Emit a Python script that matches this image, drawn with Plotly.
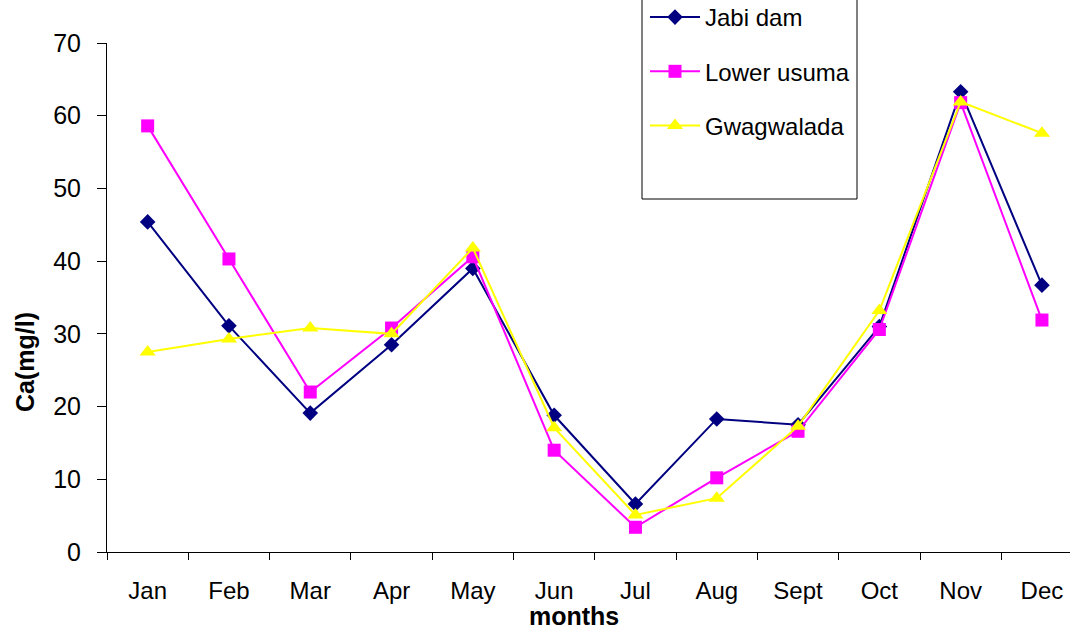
import plotly.graph_objects as go

months = ["Jan", "Feb", "Mar", "Apr", "May", "Jun", "Jul", "Aug", "Sept", "Oct", "Nov", "Dec"]
jabi_dam = [45.4, 31.1, 19.1, 28.5, 39.0, 18.8, 6.6, 18.3, 17.5, 31.0, 63.3, 36.7]
lower_usuma = [58.6, 40.3, 22.0, 30.8, 40.6, 14.0, 3.4, 10.2, 16.6, 30.6, 61.8, 31.9]
gwagwalada = [27.5, 29.3, 30.8, 30.0, 41.8, 17.1, 5.1, 7.4, 17.3, 33.2, 61.9, 57.6]

FONT = "Liberation Sans, Arial, sans-serif"

fig = go.Figure()
series = [
    ("Jabi dam", jabi_dam, "#000080", "diamond", 12),
    ("Lower usuma", lower_usuma, "#FF00FF", "square", 13),
    ("Gwagwalada", gwagwalada, "#FFFF00", "triangle-up", 14),
]
for name, vals, col, sym, sz in series:
    fig.add_trace(go.Scatter(
        x=months, y=vals, name=name, mode="lines+markers",
        line=dict(color=col, width=2),
        marker=dict(symbol=sym, size=sz, color=col),
        legendgroup=name,
    ))

W, H = 1070, 630
L, R, T, B = 107, 0, 43, 78
pw = W - L - R
ph = H - T - B

def px_x(p):
    return (p - L) / pw

def px_y(p):
    return (H - B - p) / ph

fig.update_layout(
    width=W, height=H,
    margin=dict(l=L, r=R, t=T, b=B, autoexpand=False),
    plot_bgcolor="white", paper_bgcolor="white",
    font=dict(family=FONT, color="black", size=24),
    showlegend=True,
    legend=dict(
        x=px_x(645), y=px_y(-5), xanchor="left", yanchor="top",
        bgcolor="rgba(0,0,0,0)", borderwidth=0,
        font=dict(size=24, family=FONT, color="black"),
        tracegroupgap=20, itemwidth=50,
    ),
    xaxis=dict(
        type="category", range=[-0.5, -0.5 + pw / 81.3],
        showline=True, linecolor="black", linewidth=1,
        ticks="outside", ticklen=7, tickcolor="black", tickson="boundaries",
        showgrid=False, zeroline=False,
        tickfont=dict(size=24, family=FONT, color="black"),
        ticklabelstandoff=17,
    ),
    yaxis=dict(
        range=[0, 70], dtick=10, tick0=0,
        showline=True, linecolor="black", linewidth=1,
        ticks="outside", ticklen=9, tickcolor="black",
        showgrid=False, zeroline=False,
        tickfont=dict(size=25, family=FONT, color="black"),
        ticklabelstandoff=11,
    ),
    shapes=[dict(
        type="rect", xref="paper", yref="paper",
        x0=px_x(642), x1=px_x(857), y0=px_y(199), y1=px_y(-20),
        line=dict(color="black", width=1), fillcolor="rgba(0,0,0,0)",
    )],
    annotations=[
        dict(text="<b>months</b>", xref="paper", yref="paper",
             x=px_x(574), y=px_y(616), xanchor="center", yanchor="middle",
             showarrow=False, font=dict(size=25, family=FONT, color="black")),
        dict(text="<b>Ca(mg/l)</b>", xref="paper", yref="paper",
             x=px_x(25), y=px_y(362), xanchor="center", yanchor="middle",
             textangle=-90, showarrow=False,
             font=dict(size=25, family=FONT, color="black")),
    ],
)

fig.write_html(
    "out.html",
    config={"displayModeBar": False},
    post_script="document.body.style.margin='0';document.body.style.overflow='hidden';",
)
